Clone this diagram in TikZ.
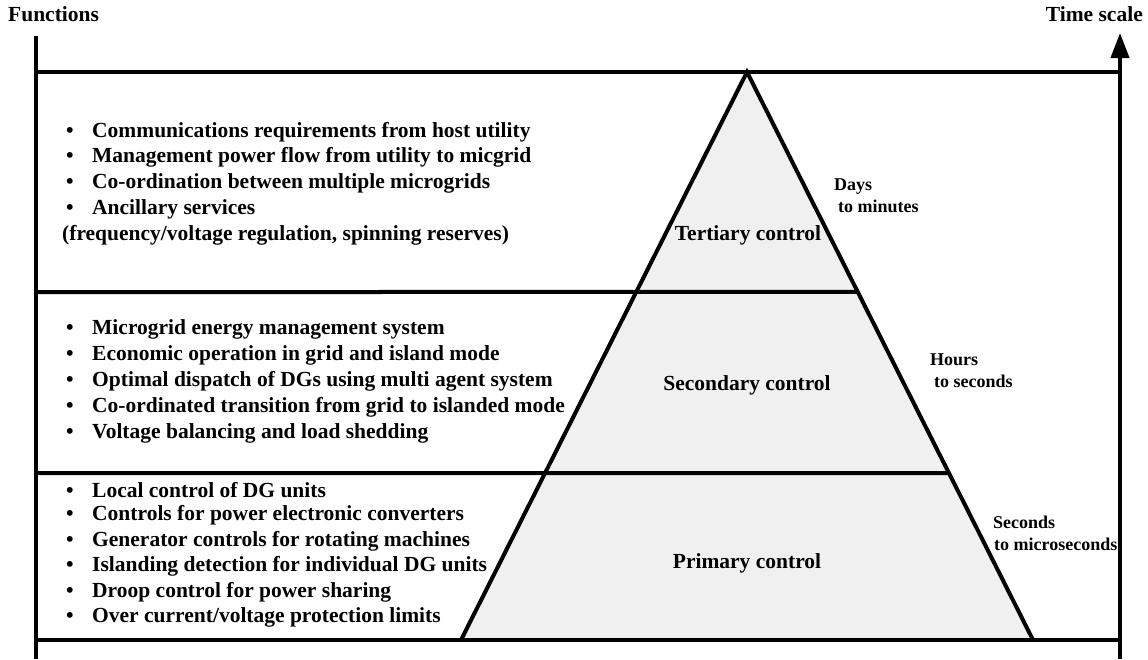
\documentclass[tikz,border=0pt]{standalone}
\usepackage{fontspec}
\setmainfont{Liberation Serif}
\usetikzlibrary{arrows.meta,calc}
\begin{document}
\begin{tikzpicture}[x=1pt,y=-1pt,
  axis/.style={line width=4pt},
  rule/.style={line width=4pt},
  item/.style={anchor=west, font=\bfseries\fontsize{21.5}{25}\selectfont, inner sep=0pt},
  lvl/.style={font=\bfseries\fontsize{21.5}{25}\selectfont, inner sep=0pt},
  tscale/.style={anchor=west, font=\bfseries\fontsize{18}{22}\selectfont, inner sep=0pt, align=left},
  head/.style={font=\bfseries\fontsize{21.5}{25}\selectfont, inner sep=0pt},
  ]
\newcommand{\bul}{\makebox[26pt][l]{\textbullet}}
\useasboundingbox (0,0) rectangle (1148,659);
% geometry
\coordinate (apex) at (747,72);
\coordinate (bl) at (461,640);
\coordinate (br) at (1033,640);
\coordinate (l0) at (36,72);
\coordinate (r0) at (1120,72);
\coordinate (l1) at (36,292);
\coordinate (l2) at (36,473);
\coordinate (l3) at (36,640);
\coordinate (r3) at (1120,640);
\coordinate (e1) at ($(apex)!0.3873!(br)$);
\coordinate (e2) at ($(apex)!0.7060!(br)$);
% pyramid
\fill[gray!12] (apex) -- (bl) -- (br) -- cycle;
\draw[rule, line join=miter] (bl) -- (apex) -- (br);
% dividers
\draw[rule] (l0) -- (r0);
\draw[rule] (l1) -- (e1);
\draw[rule] (l2) -- (e2);
\draw[rule] (l3) -- (r3);
% axes
\coordinate (ltop) at (36,36);
\coordinate (lbot) at (36,659);
\coordinate (rtop) at (1120,33);
\coordinate (rbot) at (1120,659);
\draw[axis] (lbot) -- (ltop);
\draw[axis,-{Triangle[length=25pt,width=18pt]}] (rbot) -- (rtop);
\node[head, anchor=west] (fun) at (8,14) {Functions};
\node[head, anchor=east] (ts) at (1143,14) {Time scale};
% tertiary
\node[item] (t1) at (66,132) {\bul Communications requirements from host utility};
\node[item] (t2) at (66,157.5) {\bul Management power flow from utility to micgrid};
\node[item] (t3) at (66,183) {\bul Co-ordination between multiple microgrids};
\node[item] (t4) at (66,209) {\bul Ancillary services};
\node[item] (t5) at (62,235) {(frequency/voltage regulation, spinning reserves)};
% secondary
\node[item] (s1) at (66,329) {\bul Microgrid energy management system};
\node[item] (s2) at (66,355) {\bul Economic operation in grid and island mode};
\node[item] (s3) at (66,381) {\bul Optimal dispatch of DGs using multi agent system};
\node[item] (s4) at (66,407) {\bul Co-ordinated transition from grid to islanded mode};
\node[item] (s5) at (66,433) {\bul Voltage balancing and load shedding};
% primary
\node[item] (p1) at (66,490) {\bul Local control of DG units};
\node[item] (p2) at (66,515.5) {\bul Controls for power electronic converters};
\node[item] (p3) at (66,541) {\bul Generator controls for rotating machines};
\node[item] (p4) at (66,566.5) {\bul Islanding detection for individual DG units};
\node[item] (p5) at (66,592) {\bul Droop control for power sharing};
\node[item] (p6) at (66,617.5) {\bul Over current/voltage protection limits};
% levels
\node[lvl] (tc) at (748,235) {Tertiary control};
\node[lvl] (sc) at (747,385) {Secondary control};
\node[lvl] (pc) at (747,563) {Primary control};
% time scales
\node[tscale] (d1) at (834,196) {Days\\\hspace*{4pt}to minutes};
\node[tscale] (d2) at (930,371) {Hours\\\hspace*{4pt}to seconds};
\node[tscale] (d3) at (993,533) {Seconds\\\hspace*{1pt}to microseconds};
\end{tikzpicture}
\end{document}
